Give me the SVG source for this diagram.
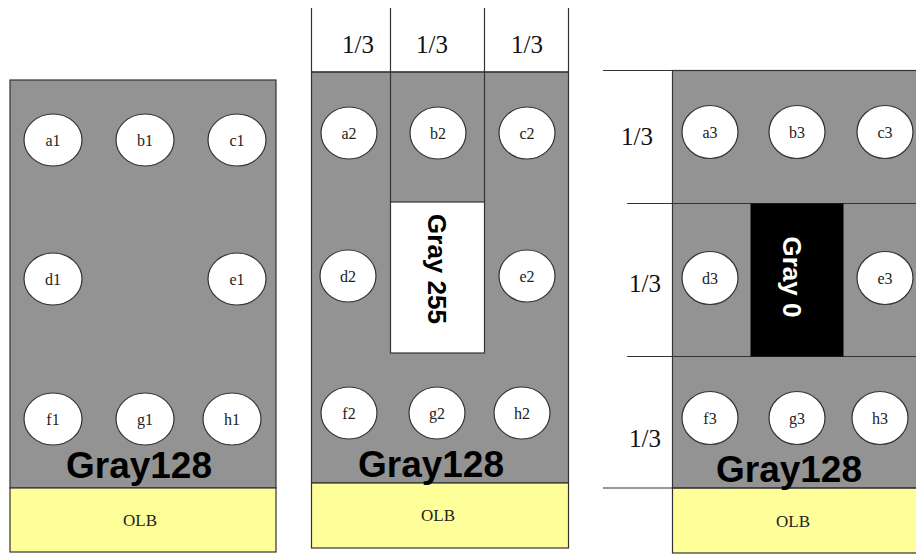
<svg xmlns="http://www.w3.org/2000/svg" width="916" height="555" viewBox="0 0 916 555">
<style>
.gray{fill:#939393;stroke:#333;stroke-width:1.2}
.olb{fill:#ffff99;stroke:#333;stroke-width:1.2}
.ln{stroke:#333;stroke-width:1.2;fill:none}
.pad{fill:#fff;stroke:#333;stroke-width:1.2}
.pl{font-family:"Liberation Serif",serif;font-size:16px;fill:#222;text-anchor:middle}
.big{font-family:"Liberation Sans",Arial,sans-serif;font-weight:bold;font-size:37px;fill:#000;text-anchor:middle}
.rot{font-family:"Liberation Sans",Arial,sans-serif;font-weight:bold;font-size:26px;text-anchor:middle}
.third{font-family:"Liberation Serif",serif;font-size:25px;fill:#111;text-anchor:middle}
.olbt{font-family:"Liberation Serif",serif;font-size:17px;fill:#222;text-anchor:middle}
</style>
<rect width="916" height="555" fill="#fff"/>

<!-- Panel 1 -->
<g id="panel1">
  <rect class="gray" x="10" y="80" width="266" height="408"/>
  <rect class="olb" x="10" y="488" width="266" height="64"/>
  <text class="big" x="139" y="478">Gray128</text>
  <text class="olbt" x="140" y="526">OLB</text>
</g>
<g id="a1"><ellipse class="pad" cx="53" cy="140" rx="29" ry="26"/><text class="pl" x="53" y="145.5">a1</text></g>
<g id="b1"><ellipse class="pad" cx="145" cy="140" rx="29" ry="26"/><text class="pl" x="145" y="145.5">b1</text></g>
<g id="c1"><ellipse class="pad" cx="237" cy="140" rx="29" ry="26"/><text class="pl" x="237" y="145.5">c1</text></g>
<g id="d1"><ellipse class="pad" cx="53" cy="279" rx="29" ry="26"/><text class="pl" x="53" y="284.5">d1</text></g>
<g id="e1"><ellipse class="pad" cx="237" cy="279" rx="29" ry="26"/><text class="pl" x="237" y="284.5">e1</text></g>
<g id="f1"><ellipse class="pad" cx="53" cy="419" rx="29" ry="26"/><text class="pl" x="53" y="424.5">f1</text></g>
<g id="g1"><ellipse class="pad" cx="145" cy="419" rx="29" ry="26"/><text class="pl" x="145" y="424.5">g1</text></g>
<g id="h1"><ellipse class="pad" cx="232" cy="419" rx="29" ry="26"/><text class="pl" x="232" y="424.5">h1</text></g>

<!-- Panel 2 -->
<g id="panel2">
  <rect class="gray" x="311.5" y="72" width="257" height="411"/>
  <rect class="olb" x="311.5" y="483" width="257" height="65"/>
  <line class="ln" x1="311.5" y1="8" x2="311.5" y2="72"/>
  <line class="ln" x1="390.5" y1="8" x2="390.5" y2="202"/>
  <line class="ln" x1="484.5" y1="8" x2="484.5" y2="202"/>
  <line class="ln" x1="568.5" y1="8" x2="568.5" y2="72"/>
  <line class="ln" x1="311.5" y1="72" x2="568.5" y2="72"/>
  <text class="third" x="358" y="53">1/3</text>
  <text class="third" x="432" y="53">1/3</text>
  <text class="third" x="527" y="53">1/3</text>
  <text class="big" x="431" y="477">Gray128</text>
  <text class="olbt" x="438" y="521">OLB</text>
</g>
<g id="gray255">
  <rect x="390.5" y="202" width="94" height="151" fill="#fff" stroke="#333" stroke-width="1.2"/>
  <text class="rot" fill="#000" transform="translate(428,269) rotate(90)" x="0" y="0">Gray 255</text>
</g>
<g id="a2"><ellipse class="pad" cx="349" cy="133" rx="28" ry="26"/><text class="pl" x="349" y="138.5">a2</text></g>
<g id="b2"><ellipse class="pad" cx="438" cy="133" rx="28" ry="26"/><text class="pl" x="438" y="138.5">b2</text></g>
<g id="c2"><ellipse class="pad" cx="527" cy="133" rx="28" ry="26"/><text class="pl" x="527" y="138.5">c2</text></g>
<g id="d2"><ellipse class="pad" cx="348" cy="276" rx="28" ry="26"/><text class="pl" x="348" y="281.5">d2</text></g>
<g id="e2"><ellipse class="pad" cx="527" cy="276" rx="28" ry="26"/><text class="pl" x="527" y="281.5">e2</text></g>
<g id="f2"><ellipse class="pad" cx="349" cy="413" rx="28" ry="26"/><text class="pl" x="349" y="418.5">f2</text></g>
<g id="g2"><ellipse class="pad" cx="437" cy="413" rx="28" ry="26"/><text class="pl" x="437" y="418.5">g2</text></g>
<g id="h2"><ellipse class="pad" cx="522" cy="413" rx="28" ry="26"/><text class="pl" x="522" y="418.5">h2</text></g>

<!-- Panel 3 -->
<g id="panel3">
  <rect class="gray" x="672.5" y="70.5" width="250" height="418"/>
  <rect class="olb" x="672.5" y="488" width="250" height="65"/>
  <line class="ln" x1="603" y1="70.5" x2="916" y2="70.5"/>
  <line class="ln" x1="627" y1="203.5" x2="916" y2="203.5"/>
  <line class="ln" x1="627" y1="356.5" x2="916" y2="356.5"/>
  <line class="ln" x1="603" y1="488" x2="916" y2="488"/>
  <text class="third" x="637" y="145">1/3</text>
  <text class="third" x="645" y="292">1/3</text>
  <text class="third" x="645" y="447">1/3</text>
  <text class="big" x="789" y="482">Gray128</text>
  <text class="olbt" x="793" y="527">OLB</text>
</g>
<g id="gray0">
  <rect x="750.5" y="203.5" width="93" height="153" fill="#000"/>
  <text class="rot" fill="#fff" transform="translate(783,277) rotate(90)" x="0" y="0">Gray 0</text>
</g>
<g id="a3"><ellipse class="pad" cx="710" cy="132" rx="28" ry="26.5"/><text class="pl" x="710" y="137.5">a3</text></g>
<g id="b3"><ellipse class="pad" cx="797" cy="132" rx="28" ry="26.5"/><text class="pl" x="797" y="137.5">b3</text></g>
<g id="c3"><ellipse class="pad" cx="885" cy="132" rx="28" ry="26.5"/><text class="pl" x="885" y="137.5">c3</text></g>
<g id="d3"><ellipse class="pad" cx="710" cy="278" rx="28" ry="26.5"/><text class="pl" x="710" y="283.5">d3</text></g>
<g id="e3"><ellipse class="pad" cx="885" cy="278" rx="28" ry="26.5"/><text class="pl" x="885" y="283.5">e3</text></g>
<g id="f3"><ellipse class="pad" cx="710" cy="418" rx="28" ry="26.5"/><text class="pl" x="710" y="423.5">f3</text></g>
<g id="g3"><ellipse class="pad" cx="797" cy="418" rx="28" ry="26.5"/><text class="pl" x="797" y="423.5">g3</text></g>
<g id="h3"><ellipse class="pad" cx="880" cy="418" rx="28" ry="26.5"/><text class="pl" x="880" y="423.5">h3</text></g>

<g id="connectors"/>
</svg>
